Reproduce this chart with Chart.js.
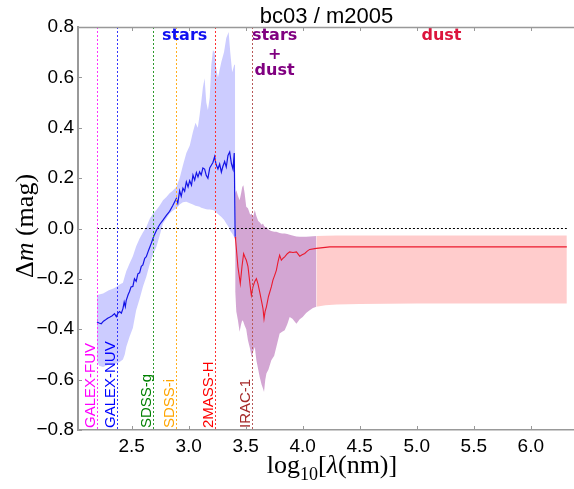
<!DOCTYPE html>
<html>
<head>
<meta charset="utf-8">
<script src="https://cdn.jsdelivr.net/npm/chart.js@4/dist/chart.umd.min.js"></script>
<style>
  html, body { margin: 0; padding: 0; background: #fff; }
  #wrap { width: 574px; height: 489px; }
</style>
</head>
<body>
<div id="wrap"><canvas id="deltaChart" width="574" height="489"></canvas></div>
<script>
// log10(lambda / nm) and delta m (mag)
const starsLogLam = [2.196, 2.215, 2.234, 2.253, 2.272, 2.290, 2.307, 2.330, 2.350, 2.366, 2.380, 2.395, 2.410, 2.424, 2.435, 2.445, 2.453, 2.470, 2.482, 2.495, 2.511, 2.525, 2.540, 2.555, 2.570, 2.585, 2.599, 2.615, 2.629, 2.650, 2.673, 2.695, 2.717, 2.745, 2.775, 2.805, 2.833, 2.860, 2.892, 2.905, 2.921, 2.935, 2.950, 2.965, 2.980, 2.995, 3.009, 3.025, 3.038, 3.053, 3.068, 3.082, 3.096, 3.110, 3.125, 3.140, 3.155, 3.169, 3.185, 3.199, 3.213, 3.228, 3.240, 3.257, 3.272, 3.287, 3.300, 3.316, 3.330, 3.345, 3.360, 3.375, 3.389, 3.400, 3.406, 3.408];
const starsDm = [-0.371, -0.375, -0.378, -0.368, -0.362, -0.356, -0.352, -0.346, -0.338, -0.350, -0.336, -0.330, -0.336, -0.318, -0.292, -0.310, -0.285, -0.262, -0.250, -0.232, -0.230, -0.200, -0.210, -0.180, -0.176, -0.150, -0.145, -0.118, -0.112, -0.085, -0.058, -0.030, -0.008, 0.015, 0.033, 0.052, 0.068, 0.090, 0.119, 0.100, 0.150, 0.128, 0.160, 0.148, 0.185, 0.165, 0.190, 0.172, 0.212, 0.192, 0.222, 0.205, 0.225, 0.212, 0.240, 0.236, 0.210, 0.199, 0.240, 0.251, 0.262, 0.285, 0.255, 0.236, 0.256, 0.224, 0.246, 0.266, 0.244, 0.290, 0.304, 0.258, 0.236, 0.300, 0.300, -0.033];

const starsBandLogLam = [2.196, 2.215, 2.250, 2.300, 2.340, 2.366, 2.395, 2.424, 2.440, 2.453, 2.482, 2.511, 2.540, 2.570, 2.600, 2.629, 2.660, 2.690, 2.717, 2.745, 2.775, 2.805, 2.833, 2.860, 2.892, 2.921, 2.950, 2.980, 3.010, 3.038, 3.060, 3.080, 3.096, 3.110, 3.125, 3.140, 3.155, 3.169, 3.185, 3.199, 3.213, 3.228, 3.240, 3.257, 3.287, 3.310, 3.330, 3.351, 3.365, 3.382, 3.400, 3.408];
const starsBandHigh = [-0.265, -0.262, -0.258, -0.245, -0.238, -0.232, -0.222, -0.215, -0.190, -0.170, -0.139, -0.110, -0.070, -0.040, -0.015, 0.006, 0.040, 0.060, 0.073, 0.090, 0.112, 0.125, 0.140, 0.150, 0.165, 0.200, 0.251, 0.300, 0.330, 0.384, 0.420, 0.400, 0.450, 0.500, 0.560, 0.597, 0.500, 0.470, 0.520, 0.650, 0.708, 0.700, 0.640, 0.600, 0.662, 0.700, 0.756, 0.780, 0.700, 0.620, 0.650, 0.650];
const starsBandLow = [-0.523, -0.545, -0.550, -0.540, -0.540, -0.536, -0.530, -0.520, -0.500, -0.470, -0.430, -0.395, -0.325, -0.280, -0.230, -0.192, -0.140, -0.100, -0.073, -0.030, 0.020, 0.040, 0.060, 0.070, 0.079, 0.095, 0.104, 0.106, 0.100, 0.095, 0.090, 0.088, 0.086, 0.082, 0.080, 0.078, 0.076, 0.075, 0.075, 0.074, 0.073, 0.070, 0.065, 0.058, 0.046, 0.035, 0.020, 0.006, -0.010, -0.020, -0.035, -0.040];

const dustLogLam = [3.408, 3.412, 3.432, 3.453, 3.468, 3.482, 3.495, 3.506, 3.520, 3.540, 3.550, 3.564, 3.580, 3.594, 3.608, 3.623, 3.640, 3.652, 3.661, 3.670, 3.682, 3.700, 3.725, 3.739, 3.755, 3.769, 3.785, 3.798, 3.813, 3.828, 3.842, 3.865, 3.886, 3.915, 3.945, 3.974, 3.995, 4.018, 4.040, 4.061, 4.120, 4.237, 4.500, 5.000, 5.500, 6.000, 6.316];
const dustDm = [-0.033, -0.046, -0.152, -0.219, -0.150, -0.100, -0.115, -0.126, -0.150, -0.230, -0.265, -0.232, -0.210, -0.199, -0.220, -0.252, -0.290, -0.318, -0.358, -0.330, -0.311, -0.270, -0.232, -0.205, -0.185, -0.166, -0.130, -0.106, -0.126, -0.118, -0.113, -0.100, -0.093, -0.095, -0.093, -0.110, -0.104, -0.099, -0.090, -0.083, -0.079, -0.073, -0.073, -0.073, -0.073, -0.073, -0.073];

const mixBandLogLam = [3.408, 3.418, 3.432, 3.447, 3.460, 3.470, 3.480, 3.491, 3.505, 3.520, 3.540, 3.552, 3.564, 3.580, 3.594, 3.610, 3.623, 3.640, 3.652, 3.661, 3.672, 3.682, 3.700, 3.725, 3.750, 3.769, 3.798, 3.820, 3.842, 3.865, 3.886, 3.910, 3.945, 3.974, 4.000, 4.030, 4.061, 4.090, 4.120];
const mixBandHigh = [0.140, 0.152, 0.130, 0.112, 0.140, 0.165, 0.172, 0.140, 0.086, 0.080, 0.055, 0.060, 0.045, 0.073, 0.050, 0.030, 0.025, 0.015, 0.020, 0.010, 0.006, 0.006, -0.005, -0.010, -0.013, -0.013, -0.018, -0.020, -0.020, -0.022, -0.025, -0.028, -0.032, -0.033, -0.033, -0.033, -0.032, -0.031, -0.030];
const mixBandLow = [-0.250, -0.330, -0.364, -0.410, -0.380, -0.364, -0.370, -0.385, -0.400, -0.444, -0.480, -0.510, -0.490, -0.470, -0.523, -0.560, -0.590, -0.620, -0.635, -0.649, -0.600, -0.576, -0.560, -0.523, -0.505, -0.470, -0.417, -0.410, -0.404, -0.380, -0.351, -0.358, -0.378, -0.360, -0.351, -0.335, -0.325, -0.316, -0.311];

const dustBandLogLam = [4.120, 4.200, 4.300, 4.500, 5.000, 5.500, 6.000, 6.316];
const dustBandHigh = [-0.030, -0.029, -0.028, -0.028, -0.028, -0.028, -0.028, -0.028];
const dustBandLow = [-0.311, -0.305, -0.302, -0.300, -0.298, -0.298, -0.298, -0.298];

const zeroLogLam = [2.196, 6.316];
const zeroDm = [0, 0];

const filterNames = ['GALEX-FUV', 'GALEX-NUV', 'SDSS-g', 'SDSS-i', '2MASS-H', 'IRAC-1'];
const filterLogLam = [2.200, 2.368, 2.687, 2.886, 3.228, 3.559];

const xTicks = [2.5, 3.0, 3.5, 4.0, 4.5, 5.0, 5.5, 6.0];
const yTicks = [-0.8, -0.6, -0.4, -0.2, 0.0, 0.2, 0.4, 0.6, 0.8];

// estilos
const filterColors = ['#ff00ff', '#0000ff', '#008000', '#ffa500', '#ff0000', '#a52a2a'];
const filterLineColors = ['#ff33ff', '#3333ff', '#2e9a2e', '#ffb020', '#ff3030', '#b85a5a'];
const regionLabels = [
    { text: 'stars', x: 2.965, y: 0.764, color: '#1010f0' },
    { text: 'stars', x: 3.754, y: 0.764, color: '#800080' },
    { text: '+', x: 3.754, y: 0.689, color: '#800080' },
    { text: 'dust', x: 3.754, y: 0.625, color: '#800080' },
    { text: 'dust', x: 5.217, y: 0.764, color: '#dc143c' }
];

const pts = (xs, ys) => xs.map((v, i) => ({ x: v, y: ys[i] }));
const FRAME = '#999';

function drawParts(ctx, parts, cx, baseY) {
    let total = 0;
    parts.forEach(p => { ctx.font = p.font; p.w = ctx.measureText(p.text).width; total += p.w; });
    let pos = cx - total / 2;
    parts.forEach(p => {
        ctx.font = p.font;
        ctx.fillText(p.text, pos, baseY + (p.dy || 0));
        pos += p.w;
    });
}

const overlay = {
    id: 'overlay',
    afterDatasetsDraw(chart) {
        const { ctx, chartArea: a, scales: { x, y } } = chart;
        ctx.save();
        // lineas de filtros
        ctx.lineWidth = 1;
        ctx.setLineDash([2, 2]);
        filterLogLam.forEach((v, i) => {
            const px = Math.round(x.getPixelForValue(v)) + 0.5;
            ctx.strokeStyle = filterLineColors[i];
            ctx.beginPath();
            ctx.moveTo(px, a.top);
            ctx.lineTo(px, a.bottom);
            ctx.stroke();
        });
        ctx.setLineDash([]);

        // nombres de filtros, verticales
        ctx.font = '15px "Liberation Sans", Arial, sans-serif';
        ctx.textAlign = 'left';
        ctx.textBaseline = 'alphabetic';
        filterNames.forEach((name, i) => {
            const px = x.getPixelForValue(filterLogLam[i]);
            ctx.save();
            ctx.translate(px - 2, a.bottom - 2);
            ctx.rotate(-Math.PI / 2);
            ctx.fillStyle = filterColors[i];
            ctx.fillText(name, 0, 0);
            ctx.restore();
        });

        // etiquetas de regiones
        ctx.font = 'bold 16px "DejaVu Sans", sans-serif';
        ctx.textAlign = 'center';
        ctx.textBaseline = 'middle';
        regionLabels.forEach(l => {
            ctx.fillStyle = l.color;
            ctx.fillText(l.text, x.getPixelForValue(l.x), y.getPixelForValue(l.y));
        });
        ctx.restore();
    },
    afterDraw(chart) {
        const { ctx, chartArea: a, scales: { x, y } } = chart;
        ctx.save();
        // marco superior y ticks hacia dentro
        ctx.strokeStyle = FRAME;
        ctx.lineWidth = 1.5;
        ctx.beginPath();
        ctx.moveTo(a.left, a.top + 0.5);
        ctx.lineTo(a.right + 1, a.top + 0.5);
        ctx.stroke();
        ctx.lineWidth = 1;
        xTicks.forEach(v => {
            const px = Math.round(x.getPixelForValue(v)) + 0.5;
            ctx.beginPath();
            ctx.moveTo(px, a.bottom); ctx.lineTo(px, a.bottom - 4);
            ctx.moveTo(px, a.top); ctx.lineTo(px, a.top + 4);
            ctx.stroke();
        });
        yTicks.forEach(v => {
            const py = Math.round(y.getPixelForValue(v)) + 0.5;
            ctx.beginPath();
            ctx.moveTo(a.left, py); ctx.lineTo(a.left + 4, py);
            ctx.stroke();
        });

        // titulo
        ctx.fillStyle = '#000';
        ctx.textAlign = 'center';
        ctx.textBaseline = 'alphabetic';
        ctx.font = '22px "Liberation Sans", Arial, sans-serif';
        ctx.fillText('bc03 / m2005', (a.left + a.right) / 2 + 1, 23);

        // titulo eje x
        ctx.textAlign = 'left';
        drawParts(ctx, [
            { text: 'log', font: '26px "Liberation Serif", serif' },
            { text: '10', font: '18px "Liberation Serif", serif', dy: 7 },
            { text: '[', font: '26px "Liberation Serif", serif' },
            { text: 'λ', font: 'italic 26px "Liberation Serif", serif' },
            { text: '(nm)]', font: '26px "Liberation Serif", serif' }
        ], 332, 473);

        // titulo eje y
        ctx.save();
        ctx.translate(33, 226);
        ctx.rotate(-Math.PI / 2);
        drawParts(ctx, [
            { text: 'Δ', font: '26px "Liberation Serif", serif' },
            { text: 'm', font: 'italic 26px "Liberation Serif", serif' },
            { text: ' (mag)', font: '26px "Liberation Serif", serif' }
        ], 0, 0);
        ctx.restore();
        ctx.restore();
    }
};

document.addEventListener('DOMContentLoaded', function () {
    const ctx = document.getElementById('deltaChart').getContext('2d');
    const tickFont = { family: '"Liberation Sans", Arial, sans-serif', size: 19 };
    // banda: limite superior rellenado hasta el inferior
    const band = (xs, hi, lo, color) => [
        { data: pts(xs, hi), borderWidth: 0, borderColor: 'rgba(0,0,0,0)', pointRadius: 0, fill: '+1', backgroundColor: color, order: 2 },
        { data: pts(xs, lo), borderWidth: 0, borderColor: 'rgba(0,0,0,0)', pointRadius: 0, fill: false, order: 2 }
    ];

    new Chart(ctx, {
        type: 'line',
        data: {
            datasets: [
                { data: pts(starsLogLam, starsDm), borderColor: '#1414e6', borderWidth: 1.2, pointRadius: 0, fill: false, order: 0 },
                { data: pts(dustLogLam, dustDm), borderColor: 'rgb(235,25,45)', borderWidth: 1.1, pointRadius: 0, fill: false, order: 0 },
                { data: pts(zeroLogLam, zeroDm), borderColor: '#000', borderWidth: 1, borderDash: [2, 2], pointRadius: 0, fill: false, order: 0 },
                ...band(starsBandLogLam, starsBandHigh, starsBandLow, 'rgba(0,0,255,0.2)'),
                ...band(mixBandLogLam, mixBandHigh, mixBandLow, 'rgba(128,0,128,0.35)'),
                ...band(dustBandLogLam, dustBandHigh, dustBandLow, 'rgba(255,0,0,0.2)')
            ]
        },
        options: {
            responsive: false,
            animation: false,
            layout: { padding: { top: 27, right: 1, left: 0, bottom: 0 } },
            elements: { line: { tension: 0 } },
            plugins: { legend: { display: false }, tooltip: { enabled: false }, title: { display: false } },
            scales: {
                x: {
                    type: 'linear',
                    min: 2.03,
                    max: 6.37,
                    afterBuildTicks: s => { s.ticks = xTicks.map(v => ({ value: v })); },
                    afterFit: s => { s.height = 59; },
                    ticks: { font: tickFont, color: '#000', padding: 5, maxRotation: 0, autoSkip: false, callback: v => v.toFixed(1) },
                    grid: { display: false, drawTicks: false },
                    border: { color: FRAME, width: 1.5 }
                },
                y: {
                    type: 'linear',
                    min: -0.8,
                    max: 0.8,
                    afterBuildTicks: s => { s.ticks = yTicks.map(v => ({ value: v })); },
                    afterFit: s => { s.width = 78; },
                    ticks: { font: tickFont, color: '#000', padding: 4, autoSkip: false, callback: v => (v < -1e-9 ? '\u2212' : '') + Math.abs(v).toFixed(1) },
                    grid: { display: false, drawTicks: false },
                    border: { color: FRAME, width: 2 }
                }
            }
        },
        plugins: [overlay]
    });
});
</script>
</body>
</html>
